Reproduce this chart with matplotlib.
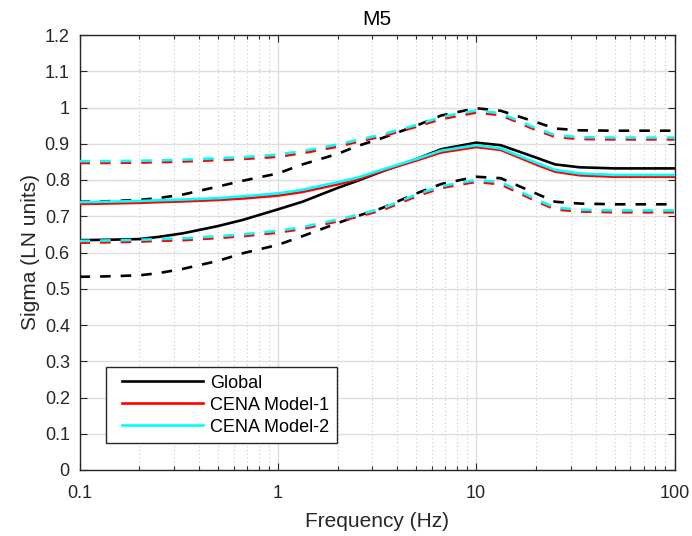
import matplotlib
matplotlib.use("Agg")
import matplotlib.pyplot as plt
from matplotlib.ticker import LogLocator, NullFormatter
from matplotlib.legend_handler import HandlerLine2D
from matplotlib.lines import Line2D

# Frequencies (Hz)
freq = [0.1, 0.133, 0.2, 0.25, 0.333, 0.5, 0.667, 1, 1.33, 2, 2.5, 3.33,
        5, 6.67, 10, 13.3, 20, 25, 33.3, 50, 100]

# Global model: mean sigma and upper / lower bounds
global_mean = [0.634, 0.635, 0.637, 0.643, 0.653, 0.673, 0.690, 0.719, 0.740, 0.778, 0.797, 0.823,
               0.858, 0.885, 0.903, 0.896, 0.862, 0.843, 0.835, 0.832, 0.832]
global_hi = [0.740, 0.741, 0.745, 0.750, 0.760, 0.782, 0.798, 0.818, 0.843, 0.872, 0.893, 0.915,
             0.950, 0.978, 0.998, 0.991, 0.960, 0.942, 0.937, 0.936, 0.936]
global_lo = [0.533, 0.534, 0.537, 0.543, 0.555, 0.577, 0.598, 0.621, 0.645, 0.681, 0.700, 0.722,
             0.763, 0.789, 0.809, 0.805, 0.763, 0.740, 0.735, 0.733, 0.733]

# CENA Model-1
m1_mean = [0.734, 0.735, 0.737, 0.739, 0.741, 0.745, 0.749, 0.757, 0.767, 0.788, 0.801, 0.824,
           0.854, 0.876, 0.891, 0.883, 0.843, 0.823, 0.813, 0.809, 0.809]
m1_hi = [0.847, 0.847, 0.848, 0.849, 0.851, 0.855, 0.858, 0.864, 0.874, 0.892, 0.905, 0.920,
         0.947, 0.968, 0.986, 0.979, 0.938, 0.919, 0.913, 0.912, 0.912]
m1_lo = [0.627, 0.628, 0.630, 0.632, 0.634, 0.640, 0.645, 0.655, 0.665, 0.686, 0.698, 0.716,
         0.755, 0.778, 0.795, 0.788, 0.742, 0.719, 0.713, 0.711, 0.711]

# CENA Model-2
m2_mean = [0.739, 0.740, 0.742, 0.744, 0.746, 0.750, 0.755, 0.763, 0.773, 0.794, 0.806, 0.828,
           0.858, 0.881, 0.896, 0.887, 0.848, 0.828, 0.818, 0.814, 0.814]
m2_hi = [0.852, 0.852, 0.853, 0.854, 0.856, 0.860, 0.863, 0.870, 0.880, 0.898, 0.910, 0.925,
         0.952, 0.974, 0.992, 0.984, 0.943, 0.924, 0.918, 0.917, 0.917]
m2_lo = [0.632, 0.633, 0.635, 0.637, 0.639, 0.645, 0.650, 0.660, 0.670, 0.691, 0.703, 0.721,
         0.760, 0.783, 0.800, 0.794, 0.747, 0.724, 0.718, 0.716, 0.716]

labels = ["Global", "CENA Model-1", "CENA Model-2"]
colors = ["#000000", "#ff0000", "#00ffff"]

y_ticks = [0, 0.1, 0.2, 0.3, 0.4, 0.5, 0.6, 0.7, 0.8, 0.9, 1.0, 1.1, 1.2]
y_ticklabels = ["0", "0.1", "0.2", "0.3", "0.4", "0.5", "0.6", "0.7", "0.8", "0.9", "1", "1.1", "1.2"]
x_ticks = [0.1, 1, 10, 100]
x_ticklabels = ["0.1", "1", "10", "100"]

plt.rcParams["font.family"] = ["Liberation Sans", "DejaVu Sans"]
ink = "#262626"

fig = plt.figure(figsize=(6.92, 5.36), dpi=100)
ax = fig.add_axes([79.5 / 692, 1 - 470 / 536, 595 / 692, 435 / 536])

series = [(global_mean, global_hi, global_lo),
          (m1_mean, m1_hi, m1_lo),
          (m2_mean, m2_hi, m2_lo)]
lw = 1.9
dash = (4, 3.8)
for (mean, hi, lo), c, lab in zip(series, colors, labels):
    ax.plot(freq, mean, color=c, lw=lw, label=lab, zorder=3)
    ax.plot(freq, hi, color=c, lw=lw, dashes=dash, zorder=3)
    ax.plot(freq, lo, color=c, lw=lw, dashes=dash, zorder=3)

ax.set_xscale("log")
ax.set_xlim(0.1, 100)
ax.set_ylim(0, 1.2)
ax.set_xticks(x_ticks)
ax.set_xticklabels(x_ticklabels)
ax.xaxis.set_minor_locator(LogLocator(base=10, subs=range(2, 10), numticks=20))
ax.xaxis.set_minor_formatter(NullFormatter())
ax.set_yticks(y_ticks)
ax.set_yticklabels(y_ticklabels)

ax.grid(True, which="major", color="#dedede", lw=1.0, ls="-", zorder=0)
ax.grid(True, which="minor", axis="x", color="#c8c8c8", lw=0.8, ls=(0, (1, 2.5)), zorder=0)
ax.set_axisbelow(True)

ax.tick_params(which="both", direction="in", top=True, right=True, colors=ink,
               labelsize=13)
ax.tick_params(axis="x", which="both", pad=11)
ax.tick_params(axis="y", which="both", pad=7)
ax.tick_params(which="major", length=5, width=0.8)
ax.tick_params(which="minor", length=3, width=0.8)
for sp in ax.spines.values():
    sp.set_color(ink)
    sp.set_linewidth(1.0)

ax.set_title("M5", fontsize=15, color="#000000", pad=7)
ax.set_xlabel("Frequency (Hz)", fontsize=15, color=ink, labelpad=7)
ax.set_ylabel("Sigma (LN units)", fontsize=15, color=ink, labelpad=3.5)

handler = {Line2D: HandlerLine2D(xpad=0.49)}
leg = ax.legend(loc="lower left", bbox_to_anchor=((106 - 79.5) / 595, (470 - 443) / 435),
                borderaxespad=0, fontsize=13, handlelength=4.99, handletextpad=0.39,
                labelspacing=0.28, borderpad=0.4, fancybox=False, framealpha=1,
                edgecolor=ink, handler_map=handler)
leg.get_frame().set_linewidth(1.0)

fig.savefig("out.png", dpi=100)
